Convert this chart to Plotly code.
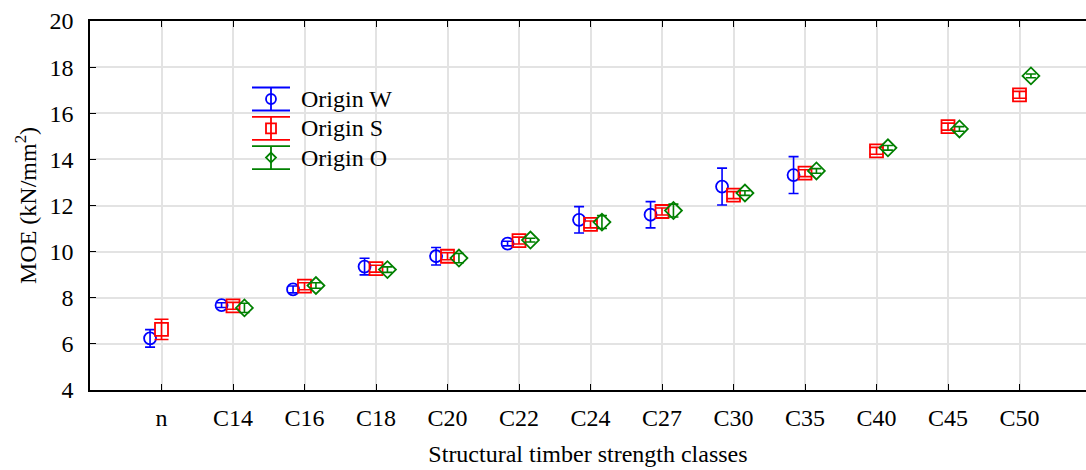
import plotly.graph_objects as go

categories = ["n", "C14", "C16", "C18", "C20", "C22", "C24", "C27", "C30", "C35", "C40", "C45", "C50"]

w_mean = [6.24, 7.68, 8.36, 9.35, 9.80, 10.35, 11.38, 11.60, 12.82, 13.32, None, None, None]
w_err = [0.38, 0.10, 0.15, 0.36, 0.38, 0.10, 0.57, 0.57, 0.80, 0.80, None, None, None]

s_mean = [6.63, 7.65, 8.50, 9.26, 9.80, 10.48, 11.18, 11.74, 12.45, 13.40, 14.37, 15.42, 16.80]
s_err = [0.44, 0.15, 0.15, 0.15, 0.15, 0.15, 0.15, 0.15, 0.15, 0.15, 0.15, 0.15, 0.15]

o_mean = [None, 7.56, 8.53, 9.22, 9.72, 10.50, 11.28, 11.78, 12.54, 13.50, 14.50, 15.32, 17.62]
o_err = [None, 0.20, 0.12, 0.12, 0.20, 0.08, 0.28, 0.28, 0.10, 0.10, 0.10, 0.10, 0.08]

series = [
    ("Origin W", w_mean, w_err, "blue", "circle-open", -0.16, 12, 5),
    ("Origin S", s_mean, s_err, "red", "square-open", 0.0, 13, 7),
    ("Origin O", o_mean, o_err, "green", "diamond-open", 0.16, 13, 5),
]

# figure geometry (pixels)
W, H = 1086, 470
ML, MR, MT, MB = 90, 0, 21, 80
PW, PH = W - ML - MR, H - MT - MB


def px_to_paper(px, py):
    return (px - ML) / PW, (H - MB - py) / PH


fig = go.Figure()
for name, mean, err, color, symbol, off, msize, cap in series:
    xs, ys, es = [], [], []
    for i, (m, e) in enumerate(zip(mean, err)):
        if m is None:
            continue
        xs.append(i + off)
        ys.append(m)
        es.append(e)
    fig.add_trace(go.Scatter(
        x=xs, y=ys, mode="markers", name=name, showlegend=False,
        marker=dict(symbol=symbol, size=msize, color=color, line=dict(width=1.8, color=color)),
        error_y=dict(type="data", array=es, visible=True, color=color, thickness=1.6, width=cap),
    ))

ff = "Liberation Serif"
tf = dict(family=ff, size=24, color="black")

# custom legend (glyph with error bar + label), drawn in paper coordinates
leg_x, leg_y0, leg_dy = 271, 99, 29.3
cap_half, bar_half, mk = 19, 11.5, 5
shapes = []
annotations = []
for k, (name, mean, err, color, symbol, off, msize, cap) in enumerate(series):
    cy = leg_y0 + k * leg_dy
    lw = 1.8
    for yy in (cy - bar_half, cy + bar_half):
        x0, y0 = px_to_paper(leg_x - cap_half, yy)
        x1, y1 = px_to_paper(leg_x + cap_half, yy)
        shapes.append(dict(type="line", xref="paper", yref="paper", x0=x0, y0=y0, x1=x1, y1=y1,
                           line=dict(color=color, width=lw)))
    x0, y0 = px_to_paper(leg_x, cy - bar_half)
    x1, y1 = px_to_paper(leg_x, cy + bar_half)
    a0, b0 = px_to_paper(leg_x - mk, cy - mk)
    a1, b1 = px_to_paper(leg_x + mk, cy + mk)
    if symbol.startswith("circle"):
        shapes.append(dict(type="circle", xref="paper", yref="paper", x0=a0, y0=b0, x1=a1, y1=b1,
                           line=dict(color=color, width=lw), fillcolor="white"))
    elif symbol.startswith("square"):
        shapes.append(dict(type="rect", xref="paper", yref="paper", x0=a0, y0=b0, x1=a1, y1=b1,
                           line=dict(color=color, width=lw), fillcolor="white"))
    else:
        pts = [px_to_paper(leg_x, cy - mk), px_to_paper(leg_x + mk, cy),
               px_to_paper(leg_x, cy + mk), px_to_paper(leg_x - mk, cy)]
        path = "M " + " L ".join(f"{p[0]},{p[1]}" for p in pts) + " Z"
        shapes.append(dict(type="path", xref="paper", yref="paper", path=path,
                           line=dict(color=color, width=lw), fillcolor="white"))
    shapes.append(dict(type="line", xref="paper", yref="paper", x0=x0, y0=y0, x1=x1, y1=y1,
                       line=dict(color=color, width=lw)))
    tx, ty = px_to_paper(leg_x + 28, cy)
    annotations.append(dict(text=name, xref="paper", yref="paper", x=tx, y=ty,
                            xanchor="left", yanchor="middle", showarrow=False, font=tf))

fig.update_layout(
    width=W, height=H,
    margin=dict(l=ML, r=MR, t=MT, b=MB),
    paper_bgcolor="white", plot_bgcolor="white",
    font=tf,
    showlegend=False,
    shapes=shapes,
    annotations=annotations,
    xaxis=dict(
        range=[-1, 12.93], tickmode="array", tickvals=list(range(len(categories))),
        ticktext=categories, showgrid=True, gridcolor="#e3e3e3", gridwidth=1.5,
        showline=True, linecolor="black", linewidth=1.5, mirror="ticks",
        ticks="inside", ticklen=6, tickcolor="black", zeroline=False,
        tickfont=tf,
        title=dict(text="Structural timber strength classes", standoff=16, font=tf),
        ticklabelstandoff=5,
    ),
    yaxis=dict(
        range=[4, 20], tickmode="array", tickvals=list(range(4, 21, 2)),
        showgrid=True, gridcolor="#e3e3e3", gridwidth=1.5,
        showline=True, linecolor="black", linewidth=1.5, mirror=False,
        ticks="inside", ticklen=6, tickcolor="black", zeroline=False,
        tickfont=tf,
        title=dict(text="MOE (kN/mm<sup>2</sup>)", standoff=6, font=tf),
        ticklabelstandoff=10,
    ),
)

fig.write_html("out.html")
